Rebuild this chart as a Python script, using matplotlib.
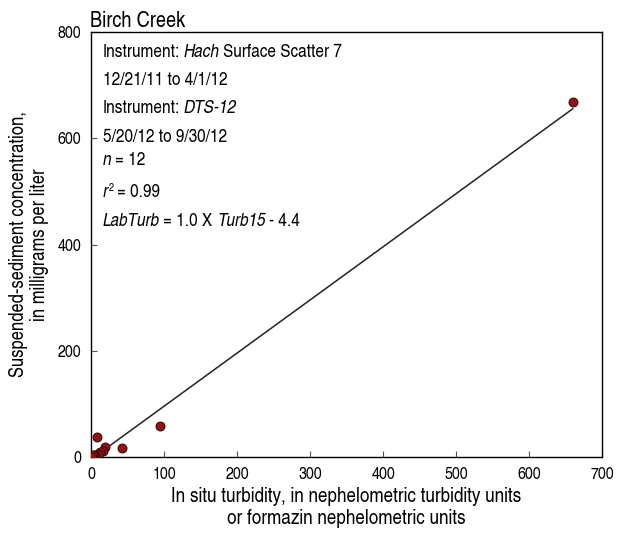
import numpy as np
import matplotlib as mpl
import matplotlib.pyplot as plt

FONT = ['TeX Gyre Heros Cn', 'Liberation Sans', 'DejaVu Sans']
mpl.rcParams['font.family'] = FONT

## Measured pairs (in situ turbidity, lab SSC)
turb = [660, 95, 43, 8, 19, 16, 12, 10, 6, 4, 3, 2]
ssc = [669, 58, 17, 37, 18, 12, 9, 6, 4, 2, 3, 1]
## Regression LabTurb = 1.0 X Turb15 - 4.4
slope, icpt = 1.0, -4.4
fit_x = [4, 660]

xticks = [0, 100, 200, 300, 400, 500, 600, 700]
yticks = [0, 200, 400, 600, 800]

## Annotation lines: (text, italic, gap before in pt, rise in pt, size scale)
notes = [
  [('Instrument:', 0, 0, 0, 1), ('Hach', 1, 2.5, 0, 1), ('Surface Scatter 7', 0, 2, 0, 1)],
  [('12/21/11 to 4/1/12', 0, 0, 0, 1)],
  [('Instrument:', 0, 0, 0, 1), ('DTS-12', 1, 2.5, 0, 1)],
  [('5/20/12 to 9/30/12', 0, 0, 0, 1)],
  [('n', 1, 0, 0, 1), ('= 12', 0, 2.5, 0, 1)],
  [('r', 1, 0, 0, 1), ('2', 0, 0.5, 5.5, 0.6), ('= 0.99', 0, 2.5, -5.5, 1)],
  [('LabTurb', 1, 0, 0, 1), ('= 1.0 X', 0, 2.5, 0, 1), ('Turb15', 1, 3.5, 0, 1), ('- 4.4', 0, 2.5, 0, 1)],
]
note_y = [52, 80, 108, 137, 160, 192, 221]   # pixel rows of line centres

fig = plt.figure(figsize=(6.17, 5.5), dpi=100)
ax = fig.add_axes([0.1475, 0.169, 0.8282, 0.7728])

fx = np.array(fit_x, dtype=float)
ax.plot(fx, slope*fx + icpt, color='#222222', lw=1.1, zorder=2)
ax.scatter(turb, ssc, s=42, color='#8b1414', edgecolor='#3a0a0a', lw=0.7, zorder=3)

ax.set_xlim(0, 700); ax.set_ylim(0, 800)
ax.set_xticks(xticks); ax.set_yticks(yticks)
ax.tick_params(direction='in', length=4, labelsize=12.5, pad=7, color='#555555')
for sp in ax.spines.values():
  sp.set_linewidth(1.0)

ax.set_xlabel('In situ turbidity, in nephelometric turbidity units\nor formazin nephelometric units',
              fontsize=15, labelpad=4, linespacing=1.15)
ax.set_ylabel('Suspended-sediment concentration,\nin milligrams per liter', fontsize=14.5,
              labelpad=6, linespacing=1.15)
ax.set_title('Birch Creek', loc='left', fontsize=16, pad=1, x=-0.002)

## Chain the pieces of each line, left to right
fs = 13.5
for parts, ypix in zip(notes, note_y):
  prev = None
  for txt, ital, gap, rise, sc in parts:
    style = 'italic' if ital else 'normal'
    if prev is None:
      prev = ax.text(12/511, (457 - ypix)/425, txt, transform=ax.transAxes,
                     fontsize=fs*sc, style=style, va='center', ha='left')
    else:
      prev = ax.annotate(txt, xy=(1, 0), xycoords=prev, xytext=(gap, rise),
                         textcoords='offset points', fontsize=fs*sc, style=style,
                         va='bottom', ha='left')

fig.savefig('out.png', dpi=100)
